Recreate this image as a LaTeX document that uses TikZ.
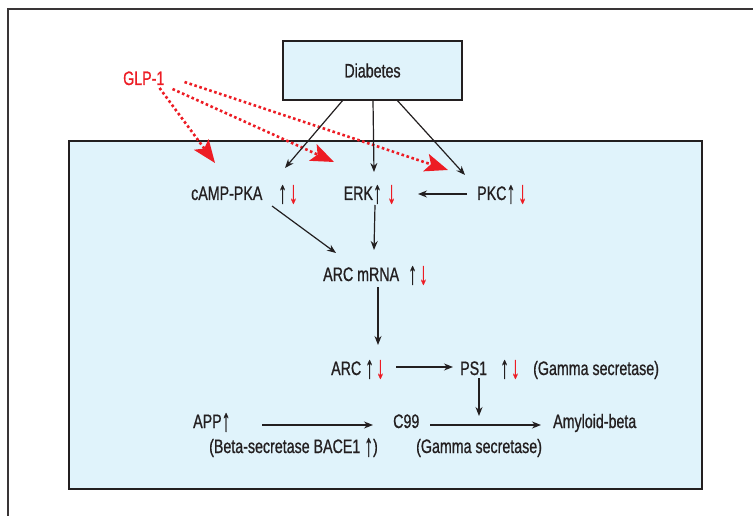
\documentclass[tikz,border=0pt]{standalone}
\usepackage{fontspec}
\setmainfont{Liberation Sans}[FakeStretch=0.73,FakeBold=0.8]
\newfontfamily\arrowfont{Liberation Sans}[FakeStretch=0.55,FakeBold=0.4]
\usepackage{tikz}
\usetikzlibrary{arrows.meta,positioning,calc}
\definecolor{boxblue}{RGB}{224,243,251}
\definecolor{glpred}{RGB}{237,28,36}
\definecolor{ink}{RGB}{35,31,32}
\newcommand{\uparr}{\raisebox{-3pt}{\arrowfont\fontsize{32}{32}\selectfont ↑}}
\newcommand{\dnarr}{\raisebox{-3pt}{\arrowfont\fontsize{32}{32}\selectfont ↓}}
\newcommand{\updn}{\uparr\hspace{2pt}\textcolor{glpred}{\dnarr}}
\begin{document}
\begin{tikzpicture}[x=1pt,y=-1pt,
	txt/.style={inner sep=0pt,anchor=base west,text=ink,font=\fontsize{19.5}{22}\selectfont},
	blk/.style={draw=ink,line width=1.2pt,-{Stealth[length=9pt,width=7pt]}},
	redarr/.style={draw=glpred,line width=2.6pt,dash pattern=on 2.6pt off 2.6pt,-{Stealth[length=23pt,width=18pt,inset=5pt]}}]
	\useasboundingbox (0,0) rectangle (753,516);
	\fill[white] (0,0) rectangle (753,516);
	\draw [line width=1.3pt,ink!90] (8,516) -- (8,9) -- (753,9);
	\draw [line width=1.3pt,draw=ink,fill=boxblue] (69,141) rectangle (702,489);
	\node [draw=ink,line width=1.3pt,fill=boxblue,minimum width=179pt,minimum height=59pt,text=ink,font=\fontsize{19.5}{22}\selectfont] (diab) at (372.5,70.5) {Diabetes};
	\node [txt,text=glpred] (glp) at (123,85) {GLP-1};
	% first row
	\node [txt] (camp) at (191,200) {cAMP-PKA};
	\node [txt] (campud) at (278,200) {\updn};
	\node [txt,anchor=base east] (erk) at (382,200) {ERK\uparr};
	\node [txt,text=glpred] (erkd) at (387,200) {\dnarr};
	\node [txt] (pkc) at (477,200) {PKC\uparr};
	\node [txt,text=glpred] (pkcd) at (518,200) {\dnarr};
	\node [txt] (arcm) at (323,281) {ARC mRNA};
	\node [txt] (arcmud) at (408,281) {\updn};
	% lower rows
	\node [txt] (arc) at (331,375) {ARC};
	\node [txt] (arcud) at (365,375) {\updn};
	\node [txt] (ps1) at (460,375) {PS1};
	\node [txt] (ps1ud) at (500,375) {\updn};
	\node [txt] (gam1) at (533,375) {(Gamma secretase)};
	\node [txt] (app) at (193,428) {APP\uparr};
	\node [txt] (bace) at (209,453) {(Beta-secretase BACE1 \uparr)};
	\node [txt] (c99) at (393,428) {C99};
	\node [txt] (gam2) at (416,453) {(Gamma secretase)};
	\node [txt] (amy) at (553,428) {Amyloid-beta};
	% GLP-1
	\draw [redarr] ($(glp.base east)+(-5,3)$) -- ($(camp.base west)+(24,-37)$);
	\draw [redarr] ($(glp.base east)+(8,4)$) -- ($(erk.base east)+(-48,-38)$);
	\draw [redarr] ($(glp.base east)+(20,-3)$) -- ($(pkc.base west)+(-29,-30)$);
	% Diabetes
	\draw [blk] ($(diab.south)+(-30,0)$) -- ($(campud.base west)+(7,-32)$);
	\draw [blk] ($(diab.south)+(0.5,0)$) -- ($(erk.base east)+(-8,-28)$);
	\draw [blk] ($(diab.south)+(25,0)$) -- ($(pkc.base west)+(-12,-25)$);
	\draw [blk] ($(pkc.base west)+(-10,-6)$) -- ($(erkd.base west)+(31,-6)$);
	\draw [blk] ($(erk.base east)+(-7,5)$) -- ($(arcm.base west)+(51,-31)$);
	\draw [blk] ($(camp.base west)+(81,6)$) -- ($(arcm.base west)+(13,-28)$);
	\draw [blk] ($(arcm.base west)+(55,6)$) -- ($(arc.base west)+(47,-30)$);
	\draw [blk] ($(arcud.base west)+(31,-8)$) -- ($(ps1.base west)+(-7,-8)$);
	\draw [blk] ($(ps1.base west)+(19,3)$) -- ($(c99.base west)+(86,-12)$);
	\draw [blk] ($(app.base west)+(69,-3)$) -- ($(c99.base west)+(-20,-3)$);
	\draw [blk] ($(c99.base west)+(37,-3)$) -- ($(amy.base west)+(-12,-3)$);
\end{tikzpicture}
\end{document}
